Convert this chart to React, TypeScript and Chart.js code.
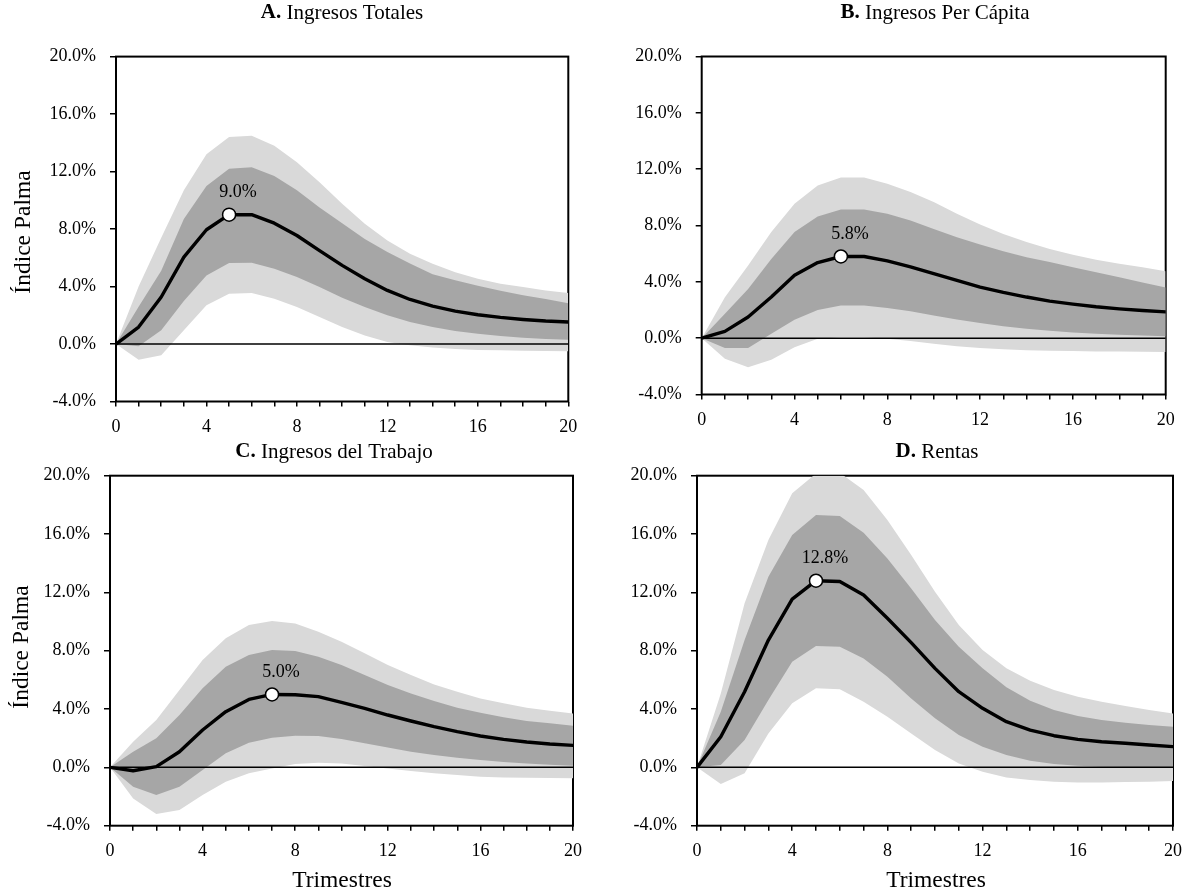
import React, { useEffect, useRef } from "react";
import { Chart, registerables } from "chart.js";

Chart.register(...registerables);

// Horizon in quarters and axis ticks
const quarters = [0, 1, 2, 3, 4, 5, 6, 7, 8, 9, 10, 11, 12, 13, 14, 15, 16, 17, 18, 19, 20];
const xTickLabels = [0, 4, 8, 12, 16, 20];
const yTickValues = [-4, 0, 4, 8, 12, 16, 20];
const zeroLine = [0, 0, 0, 0, 0, 0, 0, 0, 0, 0, 0, 0, 0, 0, 0, 0, 0, 0, 0, 0, 0];

// A. Ingresos Totales
const totalMedian = [0, 1.18, 3.27, 6.05, 7.95, 9.0, 9.0, 8.41, 7.55, 6.5, 5.47, 4.54, 3.73, 3.1, 2.64, 2.29, 2.04, 1.85, 1.71, 1.6, 1.53];
const totalInnerHi = [0, 2.6, 5.1, 8.7, 11.0, 12.2, 12.3, 11.7, 10.7, 9.5, 8.4, 7.3, 6.4, 5.6, 4.85, 4.44, 4.05, 3.7, 3.4, 3.13, 2.83];
const totalInnerLo = [0, -0.16, 0.95, 3.0, 4.77, 5.63, 5.65, 5.24, 4.66, 3.96, 3.22, 2.57, 2.0, 1.53, 1.18, 0.9, 0.72, 0.56, 0.44, 0.35, 0.3];
const totalOuterHi = [0, 4.0, 7.4, 10.7, 13.2, 14.4, 14.5, 13.8, 12.65, 11.26, 9.76, 8.37, 7.2, 6.28, 5.58, 5.0, 4.54, 4.2, 3.96, 3.73, 3.55];
const totalOuterLo = [0, -1.09, -0.79, 0.95, 2.69, 3.5, 3.55, 3.15, 2.57, 1.88, 1.18, 0.6, 0.14, -0.09, -0.25, -0.35, -0.42, -0.44, -0.46, -0.49, -0.5];

// B. Ingresos Per Cápita
const capitaMedian = [0, 0.48, 1.5, 2.92, 4.46, 5.37, 5.8, 5.8, 5.49, 5.06, 4.58, 4.1, 3.63, 3.25, 2.92, 2.63, 2.42, 2.23, 2.08, 1.96, 1.87];
const capitaInnerHi = [0, 1.73, 3.5, 5.63, 7.53, 8.64, 9.14, 9.14, 8.83, 8.36, 7.76, 7.17, 6.65, 6.18, 5.75, 5.4, 5.04, 4.68, 4.32, 3.95, 3.6];
const capitaInnerLo = [0, -0.69, -0.69, 0.31, 1.3, 2.0, 2.32, 2.32, 2.15, 1.92, 1.61, 1.33, 1.07, 0.85, 0.66, 0.52, 0.4, 0.31, 0.24, 0.19, 0.14];
const capitaOuterHi = [0, 2.9, 5.16, 7.53, 9.54, 10.84, 11.4, 11.4, 10.96, 10.37, 9.66, 8.83, 8.07, 7.4, 6.82, 6.34, 5.92, 5.56, 5.28, 5.04, 4.76];
const capitaOuterLo = [0, -1.47, -2.06, -1.54, -0.64, -0.05, 0.07, 0.07, -0.05, -0.21, -0.4, -0.57, -0.69, -0.78, -0.85, -0.9, -0.92, -0.95, -0.95, -0.97, -0.99];

// C. Ingresos del Trabajo
const laborMedian = [0, -0.23, 0.05, 1.07, 2.56, 3.82, 4.66, 5.0, 4.98, 4.85, 4.46, 4.05, 3.59, 3.18, 2.79, 2.45, 2.15, 1.92, 1.74, 1.6, 1.51];
const laborInnerHi = [0, 1.07, 1.99, 3.59, 5.42, 6.9, 7.7, 8.05, 7.98, 7.59, 7.02, 6.33, 5.65, 5.07, 4.55, 4.09, 3.75, 3.43, 3.18, 3.02, 2.86];
const laborInnerLo = [0, -1.33, -1.9, -1.33, -0.18, 0.96, 1.69, 2.03, 2.17, 2.15, 1.94, 1.65, 1.37, 1.07, 0.85, 0.66, 0.5, 0.37, 0.27, 0.18, 0.11];
const laborOuterHi = [0, 1.76, 3.25, 5.3, 7.36, 8.85, 9.76, 10.03, 9.87, 9.3, 8.62, 7.82, 7.02, 6.33, 5.69, 5.19, 4.73, 4.39, 4.09, 3.89, 3.7];
const laborOuterLo = [0, -2.13, -3.2, -2.93, -1.9, -0.98, -0.41, -0.07, 0.23, 0.32, 0.27, 0.09, -0.07, -0.25, -0.41, -0.53, -0.64, -0.69, -0.71, -0.73, -0.75];

// D. Rentas
const rentMedian = [0, 2.1, 5.19, 8.73, 11.54, 12.8, 12.75, 11.82, 10.22, 8.55, 6.79, 5.19, 4.05, 3.13, 2.56, 2.17, 1.92, 1.76, 1.65, 1.53, 1.42];
const rentInnerHi = [0, 3.82, 8.73, 13.07, 15.93, 17.3, 17.23, 16.09, 14.33, 12.27, 10.1, 8.27, 6.79, 5.49, 4.57, 3.93, 3.52, 3.25, 3.06, 2.9, 2.79];
const rentInnerLo = [0, 0.16, 1.87, 4.62, 7.25, 8.32, 8.27, 7.47, 6.22, 4.73, 3.36, 2.22, 1.42, 0.85, 0.46, 0.23, 0.11, 0.05, 0.02, 0.02, 0];
const rentOuterHi = [0, 5.07, 11.25, 15.59, 18.79, 20.15, 20.2, 19.02, 16.96, 14.56, 12.05, 9.76, 8.05, 6.79, 5.94, 5.3, 4.85, 4.5, 4.21, 3.93, 3.7];
const rentOuterLo = [0, -1.14, -0.41, 2.33, 4.39, 5.42, 5.35, 4.5, 3.47, 2.33, 1.19, 0.27, -0.3, -0.69, -0.87, -0.98, -1.03, -1.03, -1.0, -0.98, -0.94];

const LIGHT = "#d9d9d9";
const DARK = "#a6a6a6";
const FONT = '"Liberation Serif", "Times New Roman", serif';
const TICK_SIZE = 18;
const TITLE_SIZE = 21;
const AXIS_TITLE_SIZE = 23.5;
const PEAK_SIZE = 18;

type Box = { l: number; t: number; r: number; b: number };

type Panel = {
  letter: string;
  title: string;
  median: number[];
  innerLo: number[];
  innerHi: number[];
  outerLo: number[];
  outerHi: number[];
  peakIndex: number;
  box: Box;
  titleAt: [number, number];
  yTitleAt?: [number, number];
  xTitleAt?: [number, number];
  bottomRow: boolean;
};

const panels: Panel[] = [
  {
    letter: "A.", title: " Ingresos Totales",
    median: totalMedian, innerLo: totalInnerLo, innerHi: totalInnerHi, outerLo: totalOuterLo, outerHi: totalOuterHi,
    peakIndex: 5,
    box: { l: 116, t: 56.6, r: 568.3, b: 401.5 },
    titleAt: [342, 13], yTitleAt: [24, 232], bottomRow: false,
  },
  {
    letter: "B.", title: " Ingresos Per Cápita",
    median: capitaMedian, innerLo: capitaInnerLo, innerHi: capitaInnerHi, outerLo: capitaOuterLo, outerHi: capitaOuterHi,
    peakIndex: 6,
    box: { l: 701.7, t: 56.5, r: 1165.7, b: 394.5 },
    titleAt: [935, 13], bottomRow: false,
  },
  {
    letter: "C.", title: " Ingresos del Trabajo",
    median: laborMedian, innerLo: laborInnerLo, innerHi: laborInnerHi, outerLo: laborOuterLo, outerHi: laborOuterHi,
    peakIndex: 7,
    box: { l: 110, t: 475.7, r: 573, b: 825.7 },
    titleAt: [334, 452], yTitleAt: [22, 647], xTitleAt: [342, 881], bottomRow: true,
  },
  {
    letter: "D.", title: " Rentas",
    median: rentMedian, innerLo: rentInnerLo, innerHi: rentInnerHi, outerLo: rentOuterLo, outerHi: rentOuterHi,
    peakIndex: 5,
    box: { l: 697, t: 475.7, r: 1173, b: 825.7 },
    titleAt: [937, 452], xTitleAt: [936, 881], bottomRow: true,
  },
];

function geometry(p: Panel) {
  const x = Math.floor(p.box.l - 110);
  const y = Math.floor(p.box.t - 56);
  const right = Math.min(1187, Math.ceil(p.box.r + 14));
  const bottom = p.bottomRow ? 896 : Math.ceil(p.box.b + 40);
  return {
    x, y, w: right - x, h: bottom - y,
    yAxisWidth: p.box.l - x,
    padTop: p.box.t - y,
    padRight: right - p.box.r,
    xAxisHeight: bottom - p.box.b,
  };
}

function PanelChart({ panel }: { panel: Panel }) {
  const ref = useRef<HTMLCanvasElement | null>(null);
  const g = geometry(panel);

  useEffect(() => {
    const canvas = ref.current;
    if (!canvas) return;
    const xy = (arr: number[]) => quarters.map((q, i) => ({ x: q, y: arr[i] }));
    const peakRadius = quarters.map((_, i) => (i === panel.peakIndex ? 6.5 : 0));

    const decor = {
      id: "panelDecor",
      beforeDatasetsDraw(chart: any) {
        const { ctx, chartArea: a } = chart;
        ctx.save();
        ctx.strokeStyle = "#000";
        ctx.lineWidth = 2;
        ctx.strokeRect(a.left, a.top, a.right - a.left, a.bottom - a.top);
        ctx.restore();
      },
      afterDatasetsDraw(chart: any) {
        const { ctx } = chart;
        const meta = chart.getDatasetMeta(5);
        const pt = meta.data[panel.peakIndex];
        const v = panel.median[panel.peakIndex];
        ctx.save();
        ctx.fillStyle = "#000";
        ctx.font = `${PEAK_SIZE}px ${FONT}`;
        ctx.textAlign = "center";
        ctx.textBaseline = "middle";
        ctx.fillText(`${v.toFixed(1)}%`, pt.x + 9, pt.y - 22);
        ctx.restore();
      },
      afterDraw(chart: any) {
        const { ctx } = chart;
        ctx.save();
        ctx.fillStyle = "#000";
        ctx.textBaseline = "middle";
        // panel heading: bold letter followed by regular text
        const boldFont = `bold ${TITLE_SIZE}px ${FONT}`;
        const regFont = `${TITLE_SIZE}px ${FONT}`;
        ctx.font = boldFont;
        const wb = ctx.measureText(panel.letter).width;
        ctx.font = regFont;
        const wr = ctx.measureText(panel.title).width;
        const tx = panel.titleAt[0] - g.x - (wb + wr) / 2;
        const ty = panel.titleAt[1] - g.y;
        ctx.textAlign = "left";
        ctx.font = boldFont;
        ctx.fillText(panel.letter, tx, ty);
        ctx.font = regFont;
        ctx.fillText(panel.title, tx + wb, ty);
        ctx.textAlign = "center";
        ctx.font = `${AXIS_TITLE_SIZE}px ${FONT}`;
        if (panel.yTitleAt) {
          ctx.save();
          ctx.translate(panel.yTitleAt[0] - g.x, panel.yTitleAt[1] - g.y);
          ctx.rotate(-Math.PI / 2);
          ctx.fillText("Índice Palma", 0, 0);
          ctx.restore();
        }
        if (panel.xTitleAt) {
          ctx.fillText("Trimestres", panel.xTitleAt[0] - g.x, panel.xTitleAt[1] - g.y);
        }
        ctx.restore();
      },
    };

    // keep the plot box exactly where the layout puts it: no extra room for overhanging labels
    const noOverhang = (s: any) => {
      s.paddingLeft = 0;
      s.paddingRight = 0;
      s.paddingTop = 0;
      s.paddingBottom = 0;
    };

    const chart = new Chart(canvas, {
      type: "line",
      data: {
        datasets: [
          { data: xy(panel.outerLo), borderWidth: 0, pointRadius: 0, fill: false, order: 4 },
          { data: xy(panel.outerHi), borderWidth: 0, pointRadius: 0, fill: "-1", backgroundColor: LIGHT, order: 4 },
          { data: xy(panel.innerLo), borderWidth: 0, pointRadius: 0, fill: false, order: 3 },
          { data: xy(panel.innerHi), borderWidth: 0, pointRadius: 0, fill: "-1", backgroundColor: DARK, order: 3 },
          { data: xy(zeroLine), borderColor: "#000", borderWidth: 1.5, pointRadius: 0, fill: false, order: 2 },
          {
            data: xy(panel.median), borderColor: "#000", borderWidth: 3.4, fill: false, order: 1,
            borderJoinStyle: "round", borderCapStyle: "round",
            pointRadius: peakRadius, pointHoverRadius: peakRadius,
            pointBackgroundColor: "#fff", pointBorderColor: "#000", pointBorderWidth: 1.5,
          },
        ] as any,
      },
      options: {
        animation: false,
        responsive: false,
        maintainAspectRatio: false,
        devicePixelRatio: 1,
        events: [],
        layout: { padding: { top: g.padTop, right: g.padRight, bottom: 0, left: 0 } },
        plugins: { legend: { display: false }, tooltip: { enabled: false }, title: { display: false } },
        elements: { line: { tension: 0 } },
        scales: {
          x: {
            type: "linear",
            min: 0,
            max: 20,
            afterFit: (s: any) => { s.height = g.xAxisHeight; noOverhang(s); },
            afterBuildTicks: (s: any) => { s.ticks = quarters.map((v) => ({ value: v })); },
            border: { display: false },
            grid: { display: true, drawOnChartArea: false, drawTicks: true, tickLength: 5, color: "#000", lineWidth: 1.5 },
            ticks: {
              autoSkip: false, maxRotation: 0, padding: 10, color: "#000",
              font: { family: FONT, size: TICK_SIZE },
              callback: (v: any) => (xTickLabels.includes(Number(v)) ? String(v) : ""),
            },
          },
          y: {
            type: "linear",
            min: -4,
            max: 20,
            afterFit: (s: any) => { s.width = g.yAxisWidth; noOverhang(s); },
            afterBuildTicks: (s: any) => { s.ticks = yTickValues.map((v) => ({ value: v })); },
            border: { display: false },
            grid: { display: true, drawOnChartArea: false, drawTicks: true, tickLength: 6, color: "#000", lineWidth: 1.5 },
            ticks: {
              padding: 14, color: "#000",
              font: { family: FONT, size: TICK_SIZE },
              callback: (v: any) => `${Number(v).toFixed(1)}%`,
            },
          },
        },
      } as any,
      plugins: [decor],
    });
    return () => chart.destroy();
  }, []);

  return (
    <canvas
      ref={ref}
      width={g.w}
      height={g.h}
      style={{ position: "absolute", left: g.x, top: g.y, width: g.w, height: g.h }}
    />
  );
}

export default function App() {
  return (
    <div
      style={{
        position: "fixed", left: 0, top: 0, width: 1187, height: 896,
        background: "#fff", overflow: "hidden",
      }}
    >
      {panels.map((p) => (
        <PanelChart key={p.letter} panel={p} />
      ))}
    </div>
  );
}
